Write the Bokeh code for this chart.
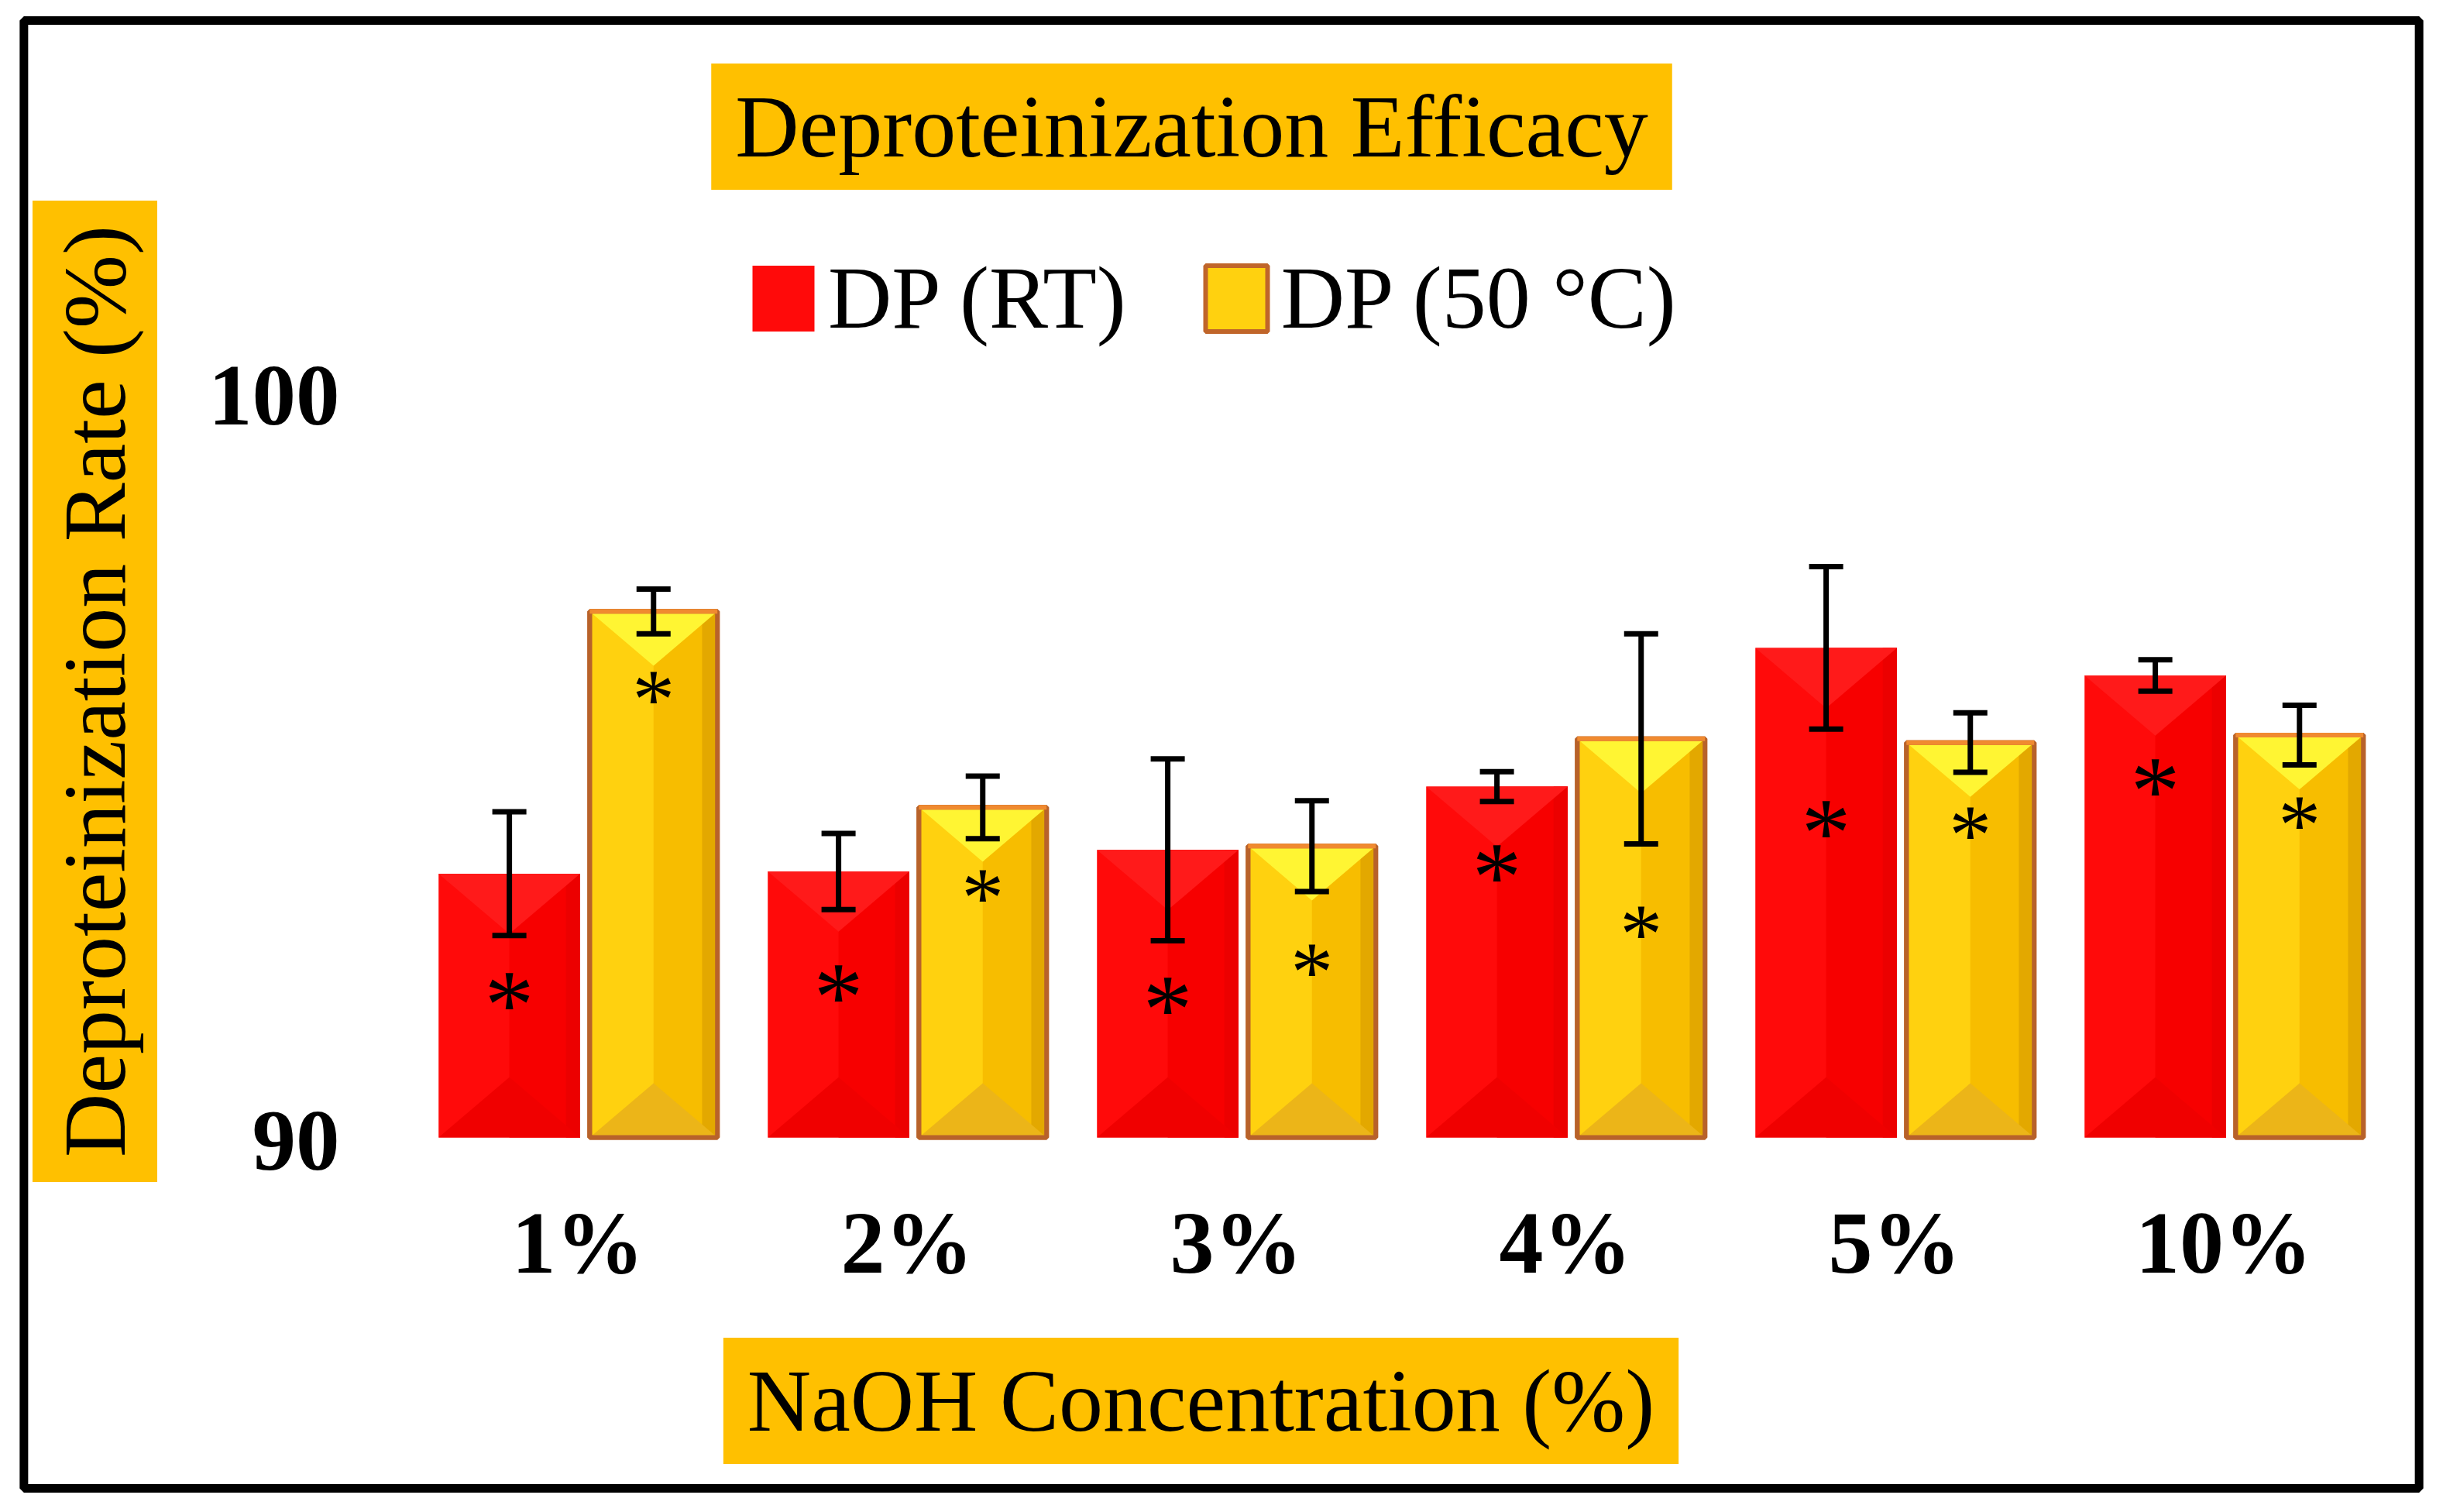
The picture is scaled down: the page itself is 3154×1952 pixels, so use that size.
import numpy as np
from bokeh.plotting import figure
from bokeh.models import (Range1d, ColumnDataSource, Whisker, TeeHead,
                          Label, Legend, LegendItem)
from bokeh.core.properties import value
from bokeh.embed import file_html
from bokeh.resources import INLINE

# ---------------- data ----------------
categories = ["1%", "2%", "3%", "4%", "5%", "10%"]
dp_rt = [93.54, 93.57, 93.86, 94.71, 96.57, 96.20]
dp_rt_err = [0.83, 0.51, 1.22, 0.20, 1.09, 0.21]
dp_50 = [97.06, 94.43, 93.91, 95.35, 95.30, 95.40]
dp_50_err = [0.30, 0.42, 0.61, 1.41, 0.40, 0.40]
star_rt_y = [91.97, 92.07, 91.91, 93.69, 94.28, 94.84]
star_50_y = [96.04, 93.38, 92.39, 92.90, 94.23, 94.36]
y_ticks = [90, 100]
series_names = ["DP (RT)", "DP (50 °C)"]
title_text = "Deproteinization Efficacy"
x_title = "NaOH Concentration (%)"
y_title = "Deproteinization Rate (%)"

# ---------------- layout (canvas pixels -> data units) ----------------
W, H = 3138, 1936
AX_LEFT, AX_BOTTOM = 533, 1468     # px of category 0 start and of y = 90
PXX = 425.0                        # px per category
PXY = 96.2                         # px per y unit
Y0 = 90
NCAT = len(categories)
SERIF = "Liberation Serif"
GOLD = "#FFC000"


def dx(px):
    return (px - AX_LEFT) / PXX


def dy(py):
    return Y0 + (AX_BOTTOM - py) / PXY


p = figure(width=W, height=H, output_backend="svg", toolbar_location=None, title=None,
           x_axis_type=None, y_axis_type=None,
           x_range=Range1d(dx(0), dx(W)), y_range=Range1d(dy(H), dy(0)),
           min_border_left=0, min_border_right=0, min_border_top=0, min_border_bottom=0)
p.outline_line_color = None
p.background_fill_color = "white"
p.border_fill_color = "white"

idx = np.arange(NCAT)
centers = idx + 0.5
rt_x = centers - 0.208
rt_w = 0.430
hot_x = centers + 0.230
hot_w = 0.388
rt_top = np.array(dp_rt)
hot_top = np.array(dp_50)

d_rt = (rt_w / 2) * PXX / PXY * 0.85
d_hot = (hot_w / 2) * PXX / PXY * 0.85


def tri(xc, w, top, d):
    xs = [[x - w / 2, x + w / 2, x] for x in xc]
    ys = [[t, t, t - d] for t in top]
    return xs, ys


def tri_bottom(xc, w, d):
    xs = [[x - w / 2, x + w / 2, x] for x in xc]
    ys = [[Y0, Y0, Y0 + d] for _ in xc]
    return xs, ys


# ---- RT bars (red, pyramid bevel) ----
r_rt = p.vbar(x=rt_x, width=rt_w, top=rt_top, bottom=Y0, fill_color="#FF0A0A", line_color=None)
p.vbar(x=rt_x + rt_w / 4, width=rt_w / 2, top=rt_top, bottom=Y0, fill_color="#F70000", line_color=None)
p.vbar(x=rt_x + rt_w * 0.45, width=rt_w * 0.1, top=rt_top, bottom=Y0, fill_color="#EC0000", line_color=None)
xs, ys = tri_bottom(rt_x, rt_w, d_rt)
p.patches(xs, ys, fill_color="#F00000", line_color=None)
xs, ys = tri(rt_x, rt_w, rt_top, d_rt)
p.patches(xs, ys, fill_color="#FF1A1A", line_color=None)

# ---- 50 °C bars (gold, pyramid bevel, brown outline) ----
r_hot = p.vbar(x=hot_x, width=hot_w, top=hot_top, bottom=Y0, fill_color="#FFD10F",
               line_color="#C0652A", line_width=6)
p.vbar(x=hot_x + hot_w / 4, width=hot_w / 2, top=hot_top, bottom=Y0, fill_color="#F7BD00", line_color=None)
p.vbar(x=hot_x + hot_w * 0.44, width=hot_w * 0.12, top=hot_top, bottom=Y0, fill_color="#E3A800", line_color=None)
xs, ys = tri_bottom(hot_x, hot_w, d_hot)
p.patches(xs, ys, fill_color="#ECB518", line_color=None)
xs, ys = tri(hot_x, hot_w, hot_top, d_hot)
p.patches(xs, ys, fill_color="#FFF533", line_color=None)
p.vbar(x=hot_x, width=hot_w, top=hot_top, bottom=Y0, fill_color=None,
       line_color="#B8622A", line_width=6)
p.segment(x0=hot_x - hot_w / 2, x1=hot_x + hot_w / 2, y0=hot_top, y1=hot_top,
          line_color="#F08A30", line_width=6)

# ---- significance stars ----
p.text(x=rt_x, y=star_rt_y, text=["*"] * NCAT, text_font=value(SERIF), text_font_size="128px",
       text_align="center", text_baseline="middle", y_offset=18, text_color="black")
p.text(x=hot_x, y=star_50_y, text=["*"] * NCAT, text_font=value(SERIF), text_font_size="110px",
       text_align="center", text_baseline="middle", y_offset=16, text_color="black")

# ---- error bars ----
all_x = np.concatenate([rt_x, hot_x])
all_v = np.concatenate([rt_top, hot_top])
all_e = np.concatenate([np.array(dp_rt_err), np.array(dp_50_err)])
src_w = ColumnDataSource(dict(x=all_x, upper=all_v + all_e, lower=all_v - all_e))
p.add_layout(Whisker(source=src_w, base="x", upper="upper", lower="lower", dimension="height",
                     level="annotation", line_color="black", line_width=7,
                     upper_head=TeeHead(size=44, line_width=7, line_color="black"),
                     lower_head=TeeHead(size=44, line_width=7, line_color="black")))

# ---- tick labels (value axis and category axis) ----
p.text(x=[dx(438)] * len(y_ticks), y=y_ticks, text=[str(t) for t in y_ticks],
       text_font=value(SERIF), text_font_style="bold", text_font_size="113px",
       text_align="right", text_baseline="middle", y_offset=4, text_color="black")
p.text(x=centers, y=[dy(1600)] * NCAT, text=categories,
       text_font=value(SERIF), text_font_style="bold", text_font_size="114px",
       text_align="center", text_baseline="middle", y_offset=4, text_color="black")

# ---- boxed titles ----
p.add_layout(Label(x=dx(1538), y=dy(163), text=title_text, text_font=SERIF,
                   text_font_size="114px", text_align="center", text_baseline="middle",
                   text_color="black", background_fill_color=GOLD, padding=dict(x=31, y=18)))
p.add_layout(Label(x=dx(1550), y=dy(1808), text=x_title, text_font=SERIF,
                   text_font_size="114px", text_align="center", text_baseline="middle",
                   text_color="black", background_fill_color=GOLD, padding=dict(x=31, y=18)))
p.add_layout(Label(x=dx(122), y=dy(892), text=y_title, text_font=SERIF, angle=np.pi / 2,
                   text_font_size="114px", text_align="center", text_baseline="middle",
                   text_color="black", background_fill_color=GOLD, padding=dict(x=32, y=17)))

# ---- outer frame ----
p.add_layout(Label(x=dx(1576.5), y=dy(973.5), text=" ", text_font_size="1px",
                   text_align="center", text_baseline="middle",
                   border_line_color="black", border_line_width=11,
                   background_fill_color=None, padding=dict(x=1546, y=947)))

# ---- legend ----
legend = Legend(items=[LegendItem(label=series_names[0], renderers=[r_rt]),
                       LegendItem(label=series_names[1], renderers=[r_hot])],
                orientation="horizontal", location=(961, 1485),
                label_text_font=SERIF, label_text_font_size="114px", label_text_color="black",
                glyph_width=100, glyph_height=106, label_standoff=8, spacing=92,
                padding=0, margin=0, border_line_color=None, background_fill_alpha=0)
p.add_layout(legend, "center")

open("out.html", "w").write(file_html(p, INLINE))
